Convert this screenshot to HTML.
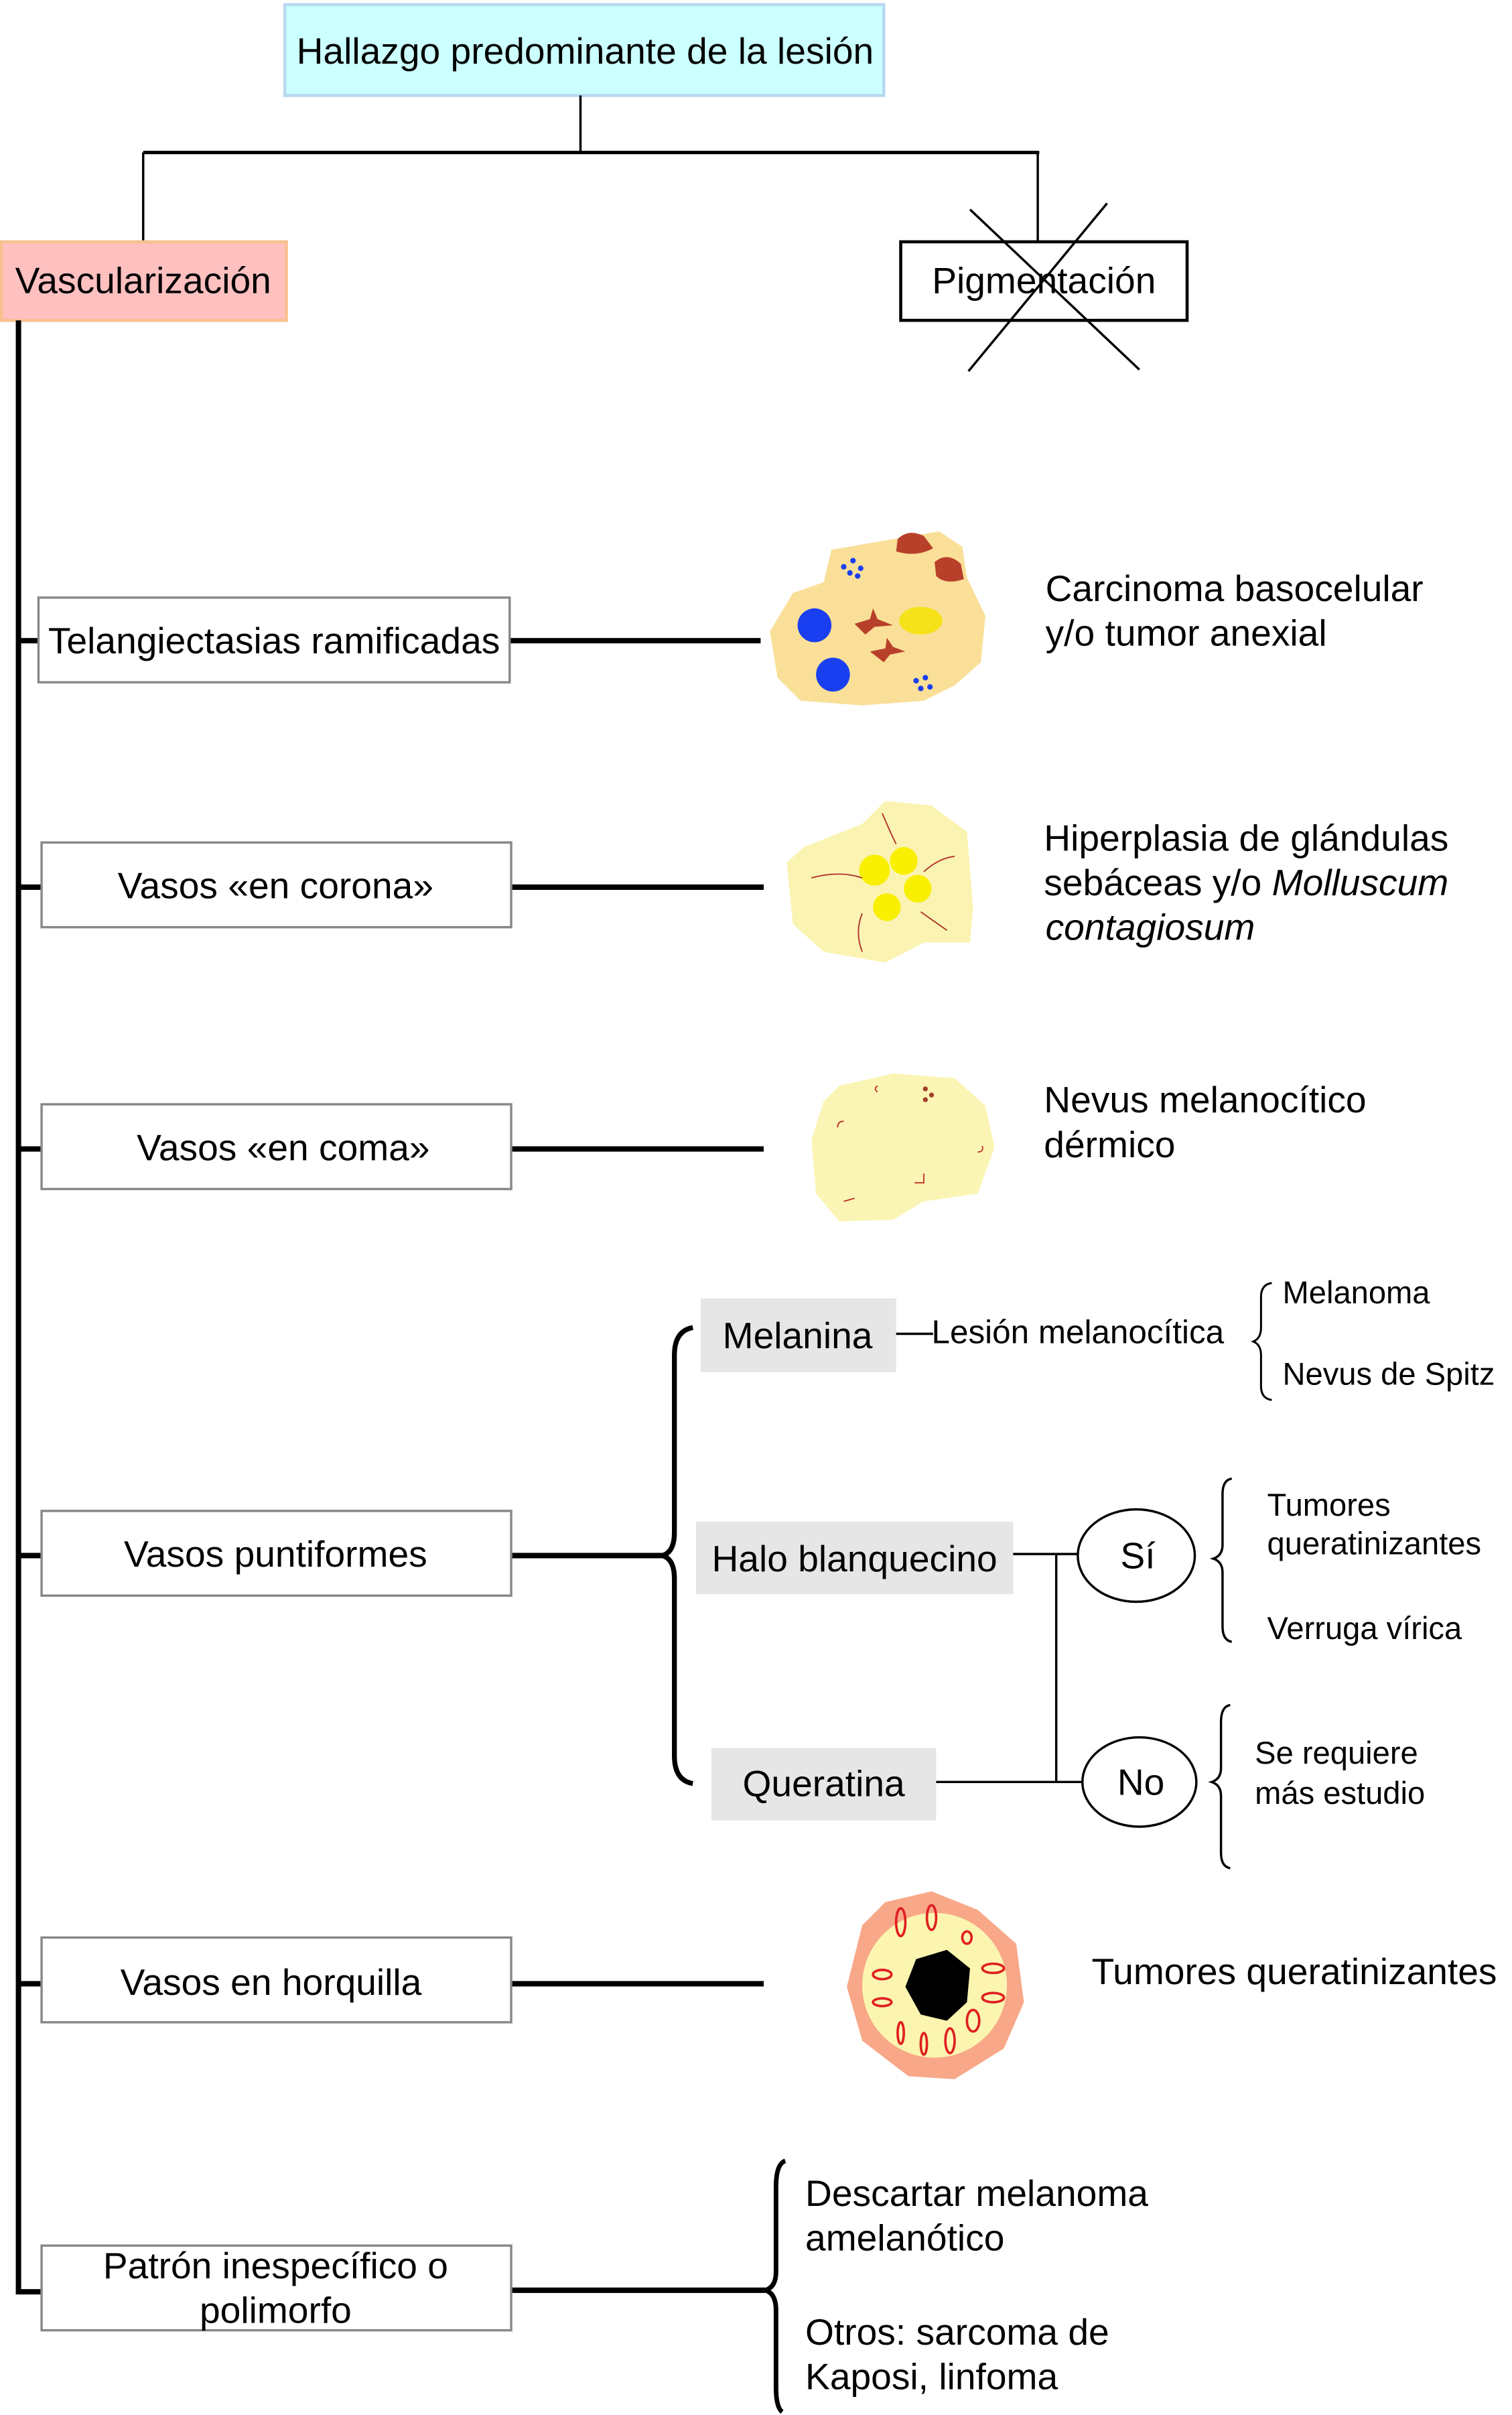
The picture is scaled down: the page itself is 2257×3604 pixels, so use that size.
<!DOCTYPE html>
<html><head><meta charset="utf-8"><style>
html,body{margin:0;padding:0;background:#fff;width:2257px;height:3604px;overflow:hidden}
svg{display:block}
text{font-family:"Liberation Sans",Arial,sans-serif;fill:#000}
</style></head><body>
<svg width="2257" height="3604" viewBox="0 0 982 1568" preserveAspectRatio="none" xmlns="http://www.w3.org/2000/svg">
<g>
<!-- top -->
<rect x="185" y="3" width="389" height="59" fill="#ccffff" stroke="#b8d8f0" stroke-width="2"/>
<text x="380" y="33" font-size="24" text-anchor="middle" dominant-baseline="central">Hallazgo predominante de la lesión</text>
<line x1="377" y1="62" x2="377" y2="99" stroke="#000" stroke-width="1.5"/>
<line x1="93" y1="99" x2="675" y2="99" stroke="#000" stroke-width="2.2"/>
<line x1="93" y1="99" x2="93" y2="157" stroke="#000" stroke-width="1.5"/>
<line x1="674" y1="99" x2="674" y2="157" stroke="#000" stroke-width="1.5"/>
<rect x="1" y="157" width="185" height="51" fill="#ffc0c0" stroke="#f8c090" stroke-width="2"/>
<text x="93" y="182" font-size="24" text-anchor="middle" dominant-baseline="central">Vascularización</text>
<rect x="585" y="157" width="186" height="51" fill="#fff" stroke="#000" stroke-width="2"/>
<text x="678" y="182" font-size="24" text-anchor="middle" dominant-baseline="central">Pigmentación</text>
<line x1="630" y1="136" x2="740" y2="240" stroke="#000" stroke-width="1.5"/>
<line x1="719" y1="132" x2="629" y2="241" stroke="#000" stroke-width="1.5"/>
<!-- main vertical -->
<path d="M12 208 V1488 H27" fill="none" stroke="#000" stroke-width="3.5"/>
<g stroke="#000" stroke-width="3.5">
<line x1="12" y1="416" x2="26" y2="416"/><line x1="12" y1="576" x2="27" y2="576"/>
<line x1="12" y1="746" x2="27" y2="746"/><line x1="12" y1="1010" x2="27" y2="1010"/>
<line x1="12" y1="1288" x2="27" y2="1288"/>
<line x1="331" y1="416" x2="494" y2="416"/><line x1="332" y1="576" x2="496" y2="576"/>
<line x1="332" y1="746" x2="496" y2="746"/><line x1="332" y1="1010" x2="430" y2="1010"/>
<line x1="332" y1="1288" x2="496" y2="1288"/><line x1="332" y1="1487" x2="497" y2="1487"/>
</g>
<g fill="#fff" stroke="#888" stroke-width="1.5">
<rect x="25" y="388" width="306" height="55"/>
<rect x="27" y="547" width="305" height="55"/>
<rect x="27" y="717" width="305" height="55"/>
<rect x="27" y="981" width="305" height="55"/>
<rect x="27" y="1258" width="305" height="55"/>
<rect x="27" y="1458" width="305" height="55"/>
</g>
<g font-size="24" text-anchor="middle" dominant-baseline="central">
<text x="178" y="416">Telangiectasias ramificadas</text>
<text x="179" y="575">Vasos «en corona»</text>
<text x="184" y="745">Vasos «en coma»</text>
<text x="179" y="1009">Vasos puntiformes</text>
<text x="176" y="1287">Vasos en horquilla</text>
<text x="179" y="1471">Patrón inespecífico o</text>
<text x="179" y="1500">polimorfo</text>
</g>
<!-- right texts -->
<g font-size="24" dominant-baseline="central">
<text x="679" y="382">Carcinoma basocelular</text>
<text x="679" y="411">y/o tumor anexial</text>
<text x="678" y="544">Hiperplasia de glándulas</text>
<text x="678" y="573">sebáceas y/o <tspan font-style="italic">Molluscum</tspan></text>
<text x="679" y="602" font-style="italic">contagiosum</text>
<text x="678" y="714">Nevus melanocítico</text>
<text x="678" y="743">dérmico</text>
<text x="709" y="1280">Tumores queratinizantes</text>
<text x="523" y="1424">Descartar melanoma</text>
<text x="523" y="1453">amelanótico</text>
<text x="523" y="1514">Otros: sarcoma de</text>
<text x="523" y="1543">Kaposi, linfoma</text>
</g>
<!-- images -->
<path d="M540 357 L580 350 L610 345 L625 355 L628 375 L640 400 L637 430 L620 445 L600 455 L560 458 L520 455 L505 440 L500 410 L515 385 L535 378 Z" fill="#fadf98"/>
<circle cx="529" cy="406" r="11" fill="#1a3ff0"/><circle cx="541" cy="438" r="11" fill="#1a3ff0"/>
<g fill="#1a3ff0"><circle cx="548" cy="368" r="1.8"/><circle cx="554" cy="364" r="1.8"/><circle cx="559" cy="369" r="1.8"/><circle cx="552" cy="372" r="1.8"/><circle cx="557" cy="374" r="1.8"/><circle cx="595" cy="442" r="1.8"/><circle cx="601" cy="440" r="1.8"/><circle cx="598" cy="447" r="1.8"/><circle cx="604" cy="446" r="1.8"/></g>
<path d="M583 350 Q590 343 600 348 L606 356 Q595 362 582 358 Z" fill="#b8402a"/>
<path d="M607 365 Q615 358 624 366 L626 376 Q614 380 608 374 Z" fill="#b8402a"/>
<path d="M555 405 L565 402 L567 395 L570 402 L580 406 L568 407 L562 412 Z" fill="#b8402a"/>
<path d="M565 423 L575 421 L576 414 L580 420 L588 423 L578 425 L574 430 Z" fill="#b8402a"/>
<ellipse cx="598" cy="403" rx="14" ry="9" fill="#f5e21a"/>
<path d="M522 550 L560 535 L575 520 L605 523 L628 540 L632 590 L630 612 L600 612 L575 625 L535 618 L515 600 L511 560 Z" fill="#fbf3b2"/>
<g fill="#f8f000"><circle cx="568" cy="565" r="10"/><circle cx="587" cy="559" r="9"/><circle cx="596" cy="577" r="9"/><circle cx="576" cy="589" r="9"/></g>
<g fill="none" stroke="#b0302a" stroke-width="0.8"><path d="M573 528 Q578 540 582 548"/><path d="M527 570 Q545 565 560 570"/><path d="M600 566 Q610 557 620 556"/><path d="M598 592 Q605 597 615 604"/><path d="M560 593 Q555 605 560 618"/></g>
<path d="M545 705 L580 697 L620 700 L640 718 L646 745 L635 775 L600 780 L580 792 L545 793 L530 775 L527 740 L535 715 Z" fill="#fbf5b5"/>
<g fill="#a0402a"><circle cx="601" cy="707" r="1.6"/><circle cx="605" cy="711" r="1.6"/><circle cx="601" cy="714" r="1.6"/></g>
<g fill="none" stroke="#c03020" stroke-width="0.8"><path d="M570 705 q-3 2 0 4"/><path d="M548 728 q-4 0 -4 4"/><path d="M635 748 q4 0 3 -4"/><path d="M600 762 v6 h-6"/><path d="M555 778 l-7 2"/></g>
<path d="M575 1235 L605 1228 L635 1240 L660 1262 L665 1300 L652 1330 L620 1350 L590 1348 L560 1325 L550 1290 L560 1250 Z" fill="#f8a888"/>
<circle cx="607" cy="1289" r="47" fill="#fbf5b0"/>
<g fill="none" stroke="#e02020" stroke-width="1.6">
<ellipse cx="585" cy="1248" rx="3" ry="9"/><ellipse cx="605" cy="1245" rx="3" ry="8"/><ellipse cx="628" cy="1258" rx="3" ry="4"/>
<ellipse cx="645" cy="1278" rx="7" ry="3"/><ellipse cx="645" cy="1297" rx="7" ry="3"/><ellipse cx="632" cy="1312" rx="4" ry="7"/>
<ellipse cx="617" cy="1325" rx="3" ry="8"/><ellipse cx="600" cy="1327" rx="2" ry="7"/><ellipse cx="585" cy="1320" rx="2" ry="7"/>
<ellipse cx="573" cy="1300" rx="6" ry="2.5"/><ellipse cx="573" cy="1282" rx="6" ry="3"/></g>
<path d="M595 1272 L615 1266 L630 1278 L628 1300 L615 1312 L598 1308 L588 1290 Z" fill="#000"/>
<!-- puntiformes brace -->
<path d="M450 862 Q438 864 438 880 V995 Q438 1008 430 1010 Q438 1012 438 1025 V1140 Q438 1156 450 1158" fill="none" stroke="#000" stroke-width="3.2"/>
<rect x="455" y="843" width="127" height="48" fill="#e6e6e6"/>
<rect x="452" y="988" width="206" height="47" fill="#e6e6e6"/>
<rect x="462" y="1135" width="146" height="47" fill="#e6e6e6"/>
<g font-size="24" text-anchor="middle" dominant-baseline="central">
<text x="518" y="867">Melanina</text>
<text x="555" y="1012">Halo blanquecino</text>
<text x="535" y="1158">Queratina</text>
<text x="739" y="1010">Sí</text>
<text x="741" y="1157">No</text>
</g>
<line x1="582" y1="866" x2="606" y2="866" stroke="#000" stroke-width="1.5"/>
<text x="605" y="865" font-size="21.5" dominant-baseline="central">Lesión melanocítica</text>
<path d="M826 833 Q819 834 819 842 V862 Q819 869 814 871 Q819 873 819 880 V900 Q819 908 826 909" fill="none" stroke="#000" stroke-width="1.3"/>
<g font-size="20.5" dominant-baseline="central">
<text x="833" y="839">Melanoma</text>
<text x="833" y="892">Nevus de Spitz</text>
<text x="823" y="977">Tumores</text>
<text x="823" y="1002">queratinizantes</text>
<text x="823" y="1057">Verruga vírica</text>
<text x="815" y="1138">Se requiere</text>
<text x="815" y="1164">más estudio</text>
</g>
<g stroke="#000" stroke-width="1.5" fill="none">
<line x1="658" y1="1009" x2="700" y2="1009"/>
<line x1="686" y1="1009" x2="686" y2="1157"/>
<line x1="608" y1="1157" x2="703" y2="1157"/>
<ellipse cx="738" cy="1010" rx="38" ry="30"/>
<ellipse cx="740" cy="1157" rx="37" ry="29"/>
<path d="M800 960 Q794 961 794 970 V1003 Q794 1010 788 1012 Q794 1014 794 1021 V1056 Q794 1065 800 1066"/>
<path d="M799 1107 Q793 1108 793 1118 V1148 Q793 1155 787 1157 Q793 1159 793 1166 V1203 Q793 1212 799 1213"/>
</g>
<path d="M510 1403 Q504 1405 504 1420 V1475 Q504 1485 497 1487 Q504 1489 504 1500 V1550 Q504 1563 508 1566" fill="none" stroke="#000" stroke-width="3"/>
</g>
</svg>
</body></html>
